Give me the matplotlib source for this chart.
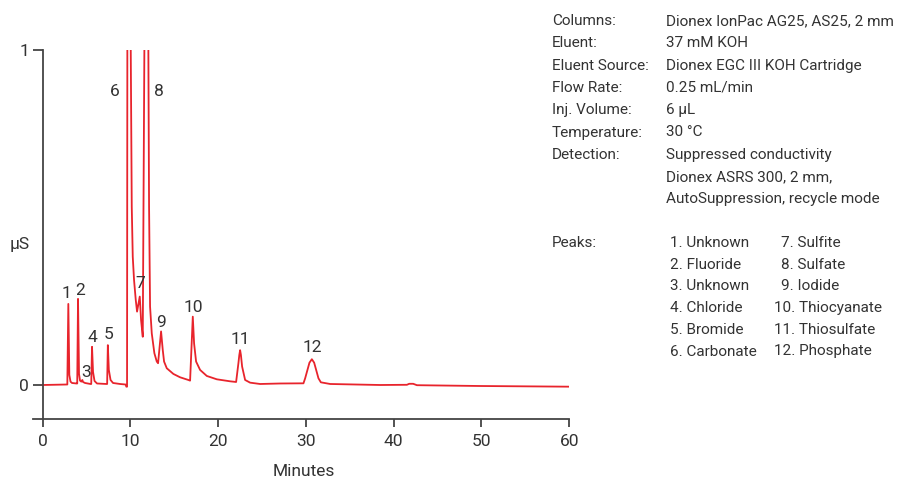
import matplotlib
matplotlib.use("Agg")
import matplotlib.pyplot as plt
from matplotlib import font_manager

# ---------------- data ----------------
time_min = [0.0, 2.805, 2.919, 3.033, 3.170, 3.341, 3.854, 3.934, 4.025, 4.139,
            4.253, 4.401, 4.515, 4.595, 4.823, 5.450, 5.530, 5.621, 5.735, 5.906,
            6.192, 7.275, 7.343, 7.423, 7.537, 7.731, 8.016, 8.814, 9.441, 9.532,
            9.612, 9.646, 9.840, 10.034, 10.148, 10.262, 10.410, 10.604, 10.752, 11.060,
            11.209, 11.403, 11.585, 11.813, 12.041, 12.121, 12.235, 12.429, 12.725, 12.999,
            13.147, 13.489, 13.683, 13.831, 14.139, 14.892, 15.656, 16.602, 16.796, 16.944,
            17.104, 17.252, 17.480, 17.936, 18.700, 19.840, 21.357, 22.041, 22.303, 22.406,
            22.497, 22.588, 22.725, 23.067, 23.637, 24.777, 27.058, 29.715, 29.909, 30.171,
            30.399, 30.673, 30.935, 31.163, 31.425, 31.699, 32.759, 38.461, 41.505, 41.767,
            42.220, 42.645, 49.874, 59.932, 60.0]
signal_uS = [0.0, 0.0015, 0.242, 0.030, 0.010, 0.006, 0.0045, 0.0045, 0.257, 0.033,
             0.013, 0.010, 0.015, 0.009, 0.006, 0.003, 0.003, 0.114, 0.039, 0.012,
             0.0045, 0.003, 0.003, 0.119, 0.045, 0.015, 0.006, 0.003, 0.0015, -0.005,
             -0.005, 1.0, 3.0, 1.0, 0.532, 0.383, 0.313, 0.254, 0.219, 0.264,
             0.194, 0.144, 1.0, 3.0, 1.0, 0.532, 0.234, 0.154, 0.095, 0.070,
             0.065, 0.160, 0.104, 0.070, 0.050, 0.033, 0.023, 0.015, 0.013, 0.104,
             0.204, 0.124, 0.070, 0.045, 0.027, 0.017, 0.011, 0.009, 0.065, 0.0896,
             0.104, 0.0896, 0.055, 0.015, 0.007, 0.003, 0.0045, 0.005, 0.020, 0.045,
             0.0666, 0.077, 0.0666, 0.045, 0.020, 0.008, 0.003, 0.0, 0.0006, 0.0036,
             0.0036, -0.0006, -0.003, -0.005, -0.005]

peak_numbers = ["1", "2", "3", "4", "5", "6", "7", "8", "9", "10", "11", "12"]
peak_label_t = [2.737, 4.253, 4.903, 5.621, 7.480, 8.164, 11.095, 13.261, 13.489, 17.172, 22.497, 30.673]
peak_label_v = [0.2785, 0.2887, 0.0427, 0.149, 0.156, 0.883, 0.308, 0.883, 0.194, 0.237, 0.142, 0.119]

peak_names = ["Unknown", "Fluoride", "Unknown", "Chloride", "Bromide", "Carbonate",
              "Sulfite", "Sulfate", "Iodide", "Thiocyanate", "Thiosulfate", "Phosphate"]

info_labels = ["Columns:", "Eluent:", "Eluent Source:", "Flow Rate:", "Inj. Volume:",
               "Temperature:", "Detection:", "", ""]
info_values = ["Dionex IonPac AG25, AS25, 2 mm", "37 mM KOH", "Dionex EGC III KOH Cartridge",
               "0.25 mL/min", "6 µL", "30 °C", "Suppressed conductivity",
               "Dionex ASRS 300, 2 mm,", "AutoSuppression, recycle mode"]

x_ticks = [0, 10, 20, 30, 40, 50, 60]
y_ticks = [0, 1]

# ---------------- style ----------------
avail = {f.name for f in font_manager.fontManager.ttflist}
fam = [f for f in ["Liberation Sans Narrow", "Roboto", "DejaVu Sans"] if f in avail]
plt.rcParams["font.family"] = fam
plt.rcParams["font.weight"] = "normal"
TXT = "#333333"
AX = "#444444"
RED = "#e8242c"
FS = 12.5      # chart labels
FB = 11.0      # method text block

W, H = 901, 480
fig = plt.figure(figsize=(W / 100, H / 100), dpi=100)
ax = fig.add_axes([33 / W, 1 - 419 / H, (569.2 - 33) / W, (419 - 50) / H])

ax.plot(time_min, signal_uS, color=RED, lw=1.3, solid_joinstyle="round")

ax.set_xlim(-1.106, 60)
ax.set_ylim(-0.1015, 1.0)

for s in ["top", "right"]:
    ax.spines[s].set_visible(False)
ax.spines["left"].set_position(("data", 0))
for s in ["left", "bottom"]:
    ax.spines[s].set_color(AX)
    ax.spines[s].set_linewidth(1.3)

ax.set_xticks(x_ticks)
ax.set_yticks(y_ticks)
ax.set_yticklabels([str(v) for v in y_ticks])
ax.tick_params(axis="x", direction="out", length=6, width=1.3, color=AX,
               labelsize=FS, labelcolor=TXT, pad=5)
ax.tick_params(axis="y", direction="out", length=7, width=1.3, color=AX,
               labelsize=FS, labelcolor=TXT, pad=3)

# peak number labels (baseline placement)
for lab, t, v in zip(peak_numbers, peak_label_t, peak_label_v):
    ax.text(t, v - 0.0194, lab, ha="center", va="baseline", fontsize=FS, color=TXT)

def ftext(x, y, s, fs=FS, **kw):
    fig.text(x / W, 1 - y / H, s, fontsize=fs, color=TXT, va="baseline", **kw)

ftext(20, 249, "µS", ha="center")
ftext(304, 476, "Minutes", ha="center")

# method information block
for i, (lab, val) in enumerate(zip(info_labels, info_values)):
    yb = 25 + 22.3 * i
    if lab:
        ftext(552, yb, lab, fs=FB, ha="left")
    ftext(665.5, yb, val, fs=FB, ha="left")

# peak list
ftext(552, 247, "Peaks:", fs=FB, ha="left")
for i in range(6):
    yb = 247 + 21.7 * i
    ftext(670.5, yb, f"{i + 1}. {peak_names[i]}", fs=FB, ha="left")
    n = i + 7
    xx = 781 if n < 10 else 774
    ftext(xx, yb, f"{n}. {peak_names[i + 6]}", fs=FB, ha="left")

fig.savefig("out.png", dpi=100)
